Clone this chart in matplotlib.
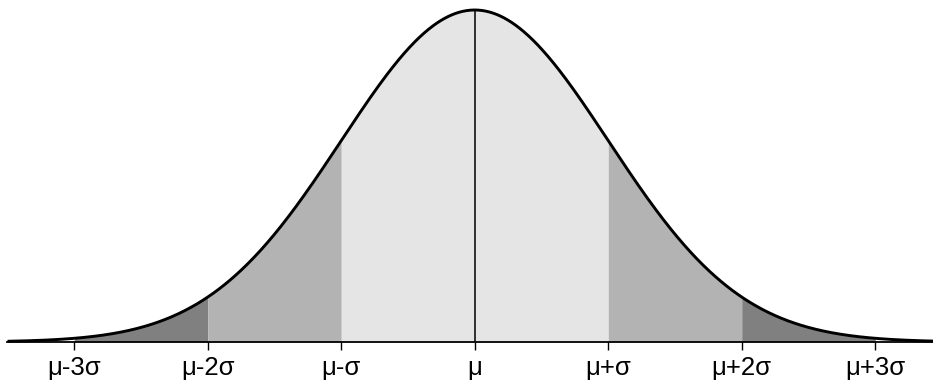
import numpy as np
import matplotlib
matplotlib.use("Agg")
import matplotlib.pyplot as plt

# Data
tick_positions = [-3, -2, -1, 0, 1, 2, 3]
tick_labels = ["μ-3σ", "μ-2σ", "μ-σ", "μ", "μ+σ", "μ+2σ", "μ+3σ"]
band_edges = [(-3, -2), (-2, -1), (-1, 1), (1, 2), (2, 3)]
band_colors = ["#808080", "#b3b3b3", "#e5e5e5", "#b3b3b3", "#808080"]
x_range = (-3.5, 3.5)

def pdf(x):
    return np.exp(-0.5 * x**2) / np.sqrt(2 * np.pi)

W, H = 933, 385
fig = plt.figure(figsize=(W / 100, H / 100), dpi=100)
left_px, right_px = 7.5, 942.0
top_px, base_px = 10.0, 342.0
ax = fig.add_axes([left_px / W, (H - base_px) / H, (right_px - left_px) / W, (base_px - top_px) / H])

for (a, b), c in zip(band_edges, band_colors):
    xs = np.linspace(a, b, 200)
    ax.fill_between(xs, 0, pdf(xs), color=c, linewidth=0)

x = np.linspace(x_range[0], x_range[1], 1000)
ax.plot(x, pdf(x), color="black", linewidth=2.1, clip_on=False, solid_capstyle="butt")
ax.plot([0, 0], [0, pdf(0)], color="black", linewidth=1.1)
ax.axhline(0, color="black", linewidth=1.3, clip_on=False)

ax.set_xlim(*x_range)
ax.set_ylim(0, pdf(0))
for s in ax.spines.values():
    s.set_visible(False)
ax.set_yticks([])
ax.set_xticks(tick_positions)
ax.set_xticklabels(tick_labels, fontsize=18.5, family=["Liberation Sans", "DejaVu Sans"])
ax.tick_params(axis="x", length=6, width=1.0, color="black", pad=4)
ax.patch.set_visible(False)

fig.savefig("out.png", dpi=100)
